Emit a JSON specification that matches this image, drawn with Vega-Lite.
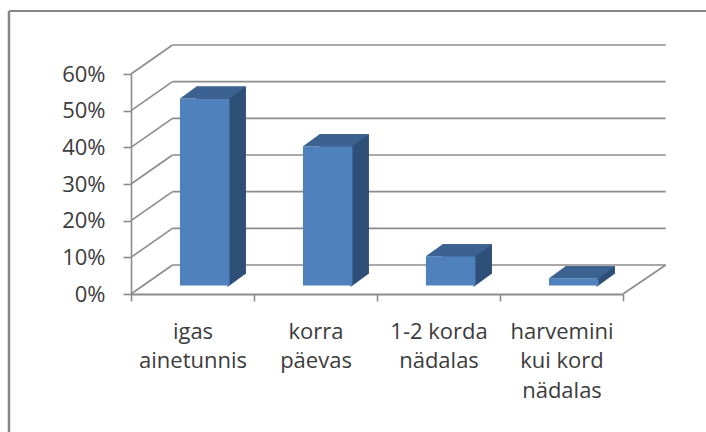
{
"$schema":"https://vega.github.io/schema/vega-lite/v6.json",
"width":492,"height":220,
"autosize":"none",
"padding":{"left":131,"top":74,"right":83,"bottom":138},
"background":"#ffffff",
"view":{"stroke":null},
"config":{"view":{"stroke":null},"axisY":{"title":null,"tickCount":7,"labelOverlap":false,"grid":false,"domainColor":"#8c8c8c","domainWidth":1.6,"tickColor":"#8c8c8c","tickWidth":1.6,"tickSize":8,"labelFont":"Open Sans","labelFontSize":22,"labelColor":"#3c3c3c","labelPadding":18,"labelLimit":0}},
"datasets":{
 "bars":[
  {"kategooria":"igas ainetunnis","osakaal":0.51},
  {"kategooria":"korra päevas","osakaal":0.38},
  {"kategooria":"1-2 korda nädalas","osakaal":0.08},
  {"kategooria":"harvemini kui kord nädalas","osakaal":0.02}
 ],
 "grid":[{"v":0},{"v":0.1},{"v":0.2},{"v":0.3},{"v":0.4},{"v":0.5},{"v":0.6}]
},
"resolve":{"scale":{"x":"independent"},"axis":{"x":"independent"}},
"layer":[
 {
  "layer":[
   {"data":{"values":[{"n":1}]},
    "mark":{"type":"rule","color":"#868686","strokeWidth":2},
    "encoding":{"x":{"datum":-0.992,"type":"quantitative","scale":{"domain":[0,4]},"axis":null},"x2":{"datum":4.7},
      "y":{"datum":0.7718,"type":"quantitative","scale":{"domain":[0,0.6]},"axis":{"title":null,"values":[0,0.1,0.2,0.3,0.4,0.5,0.6],"tickCount":7,"format":".0%"}}}},
   {"data":{"values":[{"n":1}]},
    "mark":{"type":"rule","color":"#868686","strokeWidth":2.5},
    "encoding":{"x":{"datum":-0.992,"type":"quantitative","axis":null},
      "y":{"datum":0.7718,"type":"quantitative","axis":{"title":null,"values":[0,0.1,0.2,0.3,0.4,0.5,0.6],"tickCount":7,"format":".0%"}},"y2":{"datum":-0.38}}},
   {"data":{"name":"grid"},
    "mark":{"type":"rule","color":"#8c8c8c","strokeWidth":1.6,"xOffset":41.5,"x2Offset":42.7,"yOffset":-29},
    "encoding":{"x":{"datum":0,"type":"quantitative","axis":null},"x2":{"datum":4},
      "y":{"field":"v","type":"quantitative","axis":{"title":null,"values":[0,0.1,0.2,0.3,0.4,0.5,0.6],"tickCount":7,"format":".0%"}}}},
   {"data":{"name":"grid"},
    "mark":{"type":"rule","color":"#8c8c8c","strokeWidth":1.6,"x2Offset":41.5,"y2Offset":-29},
    "encoding":{"x":{"datum":0,"type":"quantitative","axis":null},"x2":{"datum":0},
      "y":{"field":"v","type":"quantitative","axis":{"title":null,"values":[0,0.1,0.2,0.3,0.4,0.5,0.6],"tickCount":7,"format":".0%"}},"y2":{"field":"v"}}},
   {"data":{"values":[{"n":1}]},
    "mark":{"type":"rule","color":"#8c8c8c","strokeWidth":1.6,"x2Offset":42.7,"y2Offset":-29},
    "encoding":{"x":{"datum":4,"type":"quantitative","axis":null},"x2":{"datum":4},
      "y":{"datum":0,"type":"quantitative","axis":{"title":null,"values":[0,0.1,0.2,0.3,0.4,0.5,0.6],"tickCount":7,"format":".0%"}},"y2":{"datum":0}}}
  ]
 },
 {
  "data":{"name":"bars"},
  "layer":[
   {"mark":{"type":"bar","color":"#2e4f78","size":49.5,"xOffset":28.7,"yOffset":-20.5,"y2Offset":-20.5},
    "encoding":{
     "x":{"field":"kategooria","type":"nominal","sort":null,"scale":{"paddingInner":0,"paddingOuter":0},
       "axis":{"title":null,"orient":"bottom","tickBand":"extent","labelAngle":0,"domainColor":"#8c8c8c","domainWidth":2,"tickColor":"#8c8c8c","tickWidth":1.6,"tickSize":7,
        "labelFont":"Open Sans","labelFontSize":22,"labelColor":"#3c3c3c","labelPadding":20,"labelLineHeight":29.5,"labelLimit":0,"labelOverlap":false,
        "labelExpr":"datum.label == 'harvemini kui kord nädalas' ? ['harvemini','kui kord','nädalas'] : datum.label == '1-2 korda nädalas' ? ['1-2 korda','nädalas'] : split(datum.label,' ')"}},
     "y":{"field":"osakaal","type":"quantitative","axis":{"title":null,"values":[0,0.1,0.2,0.3,0.4,0.5,0.6],"tickCount":7,"format":".0%"}},
     "y2":{"datum":0}}},
   {"mark":{"type":"point","filled":true,"opacity":1,"color":"#2e4f78","strokeWidth":0,"size":4,"shape":"M 35 -7.1 L 53.5 -20.5 L 53.5 -21.5 L 35 -21.5 Z"},
    "encoding":{"x":{"field":"kategooria","type":"nominal","sort":null},"y":{"datum":0,"type":"quantitative","axis":{"title":null,"values":[0,0.1,0.2,0.3,0.4,0.5,0.6],"tickCount":7,"format":".0%"}}}},
   {"mark":{"type":"bar","color":"#4f81bd","size":49.5,"xOffset":12.2,"yOffset":-8.5,"y2Offset":-8.5},
    "encoding":{"x":{"field":"kategooria","type":"nominal","sort":null},
     "y":{"field":"osakaal","type":"quantitative","axis":{"title":null,"values":[0,0.1,0.2,0.3,0.4,0.5,0.6],"tickCount":7,"format":".0%"}},"y2":{"datum":0}}},
   {"mark":{"type":"point","filled":true,"opacity":1,"color":"#3b6291","strokeWidth":0,"size":4,"shape":"M -12.5 -8.5 L 37 -8.5 L 53.5 -20.5 L 4 -20.5 Z"},
    "encoding":{"x":{"field":"kategooria","type":"nominal","sort":null},"y":{"field":"osakaal","type":"quantitative","axis":{"title":null,"values":[0,0.1,0.2,0.3,0.4,0.5,0.6],"tickCount":7,"format":".0%"}}}}
  ]
 }
]
}
